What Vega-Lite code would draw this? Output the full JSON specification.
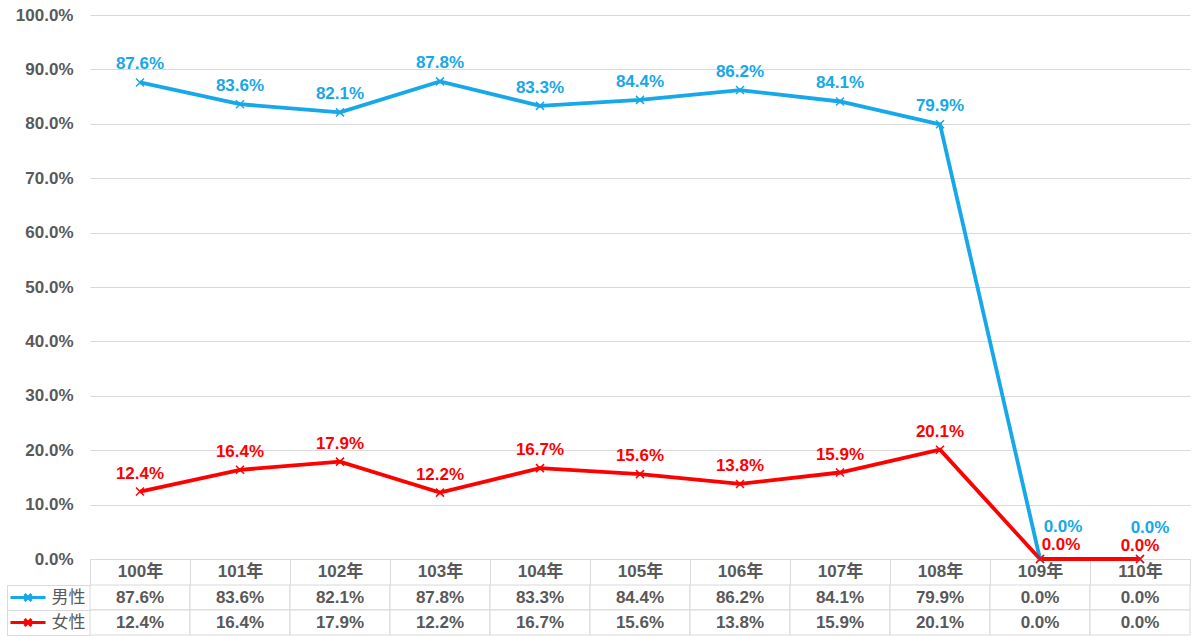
{
  "$schema": "https://vega.github.io/schema/vega-lite/v6.json",
  "padding": {"left": 4, "top": 6, "right": 0, "bottom": 0},
  "bounds": "flush",
  "columns": 2,
  "spacing": {"row": 26, "column": 41},
  "config": {
    "view": {"stroke": null},
    "font": "'Liberation Sans', 'Noto Sans CJK TC', sans-serif"
  },
  "datasets": {
    "d": [
      {"year": "100年", "series": "男性", "value": 0.876},
      {"year": "101年", "series": "男性", "value": 0.836},
      {"year": "102年", "series": "男性", "value": 0.821},
      {"year": "103年", "series": "男性", "value": 0.878},
      {"year": "104年", "series": "男性", "value": 0.833},
      {"year": "105年", "series": "男性", "value": 0.844},
      {"year": "106年", "series": "男性", "value": 0.862},
      {"year": "107年", "series": "男性", "value": 0.841},
      {"year": "108年", "series": "男性", "value": 0.799},
      {"year": "109年", "series": "男性", "value": 0.0},
      {"year": "110年", "series": "男性", "value": 0.0},
      {"year": "100年", "series": "女性", "value": 0.124},
      {"year": "101年", "series": "女性", "value": 0.164},
      {"year": "102年", "series": "女性", "value": 0.179},
      {"year": "103年", "series": "女性", "value": 0.122},
      {"year": "104年", "series": "女性", "value": 0.167},
      {"year": "105年", "series": "女性", "value": 0.156},
      {"year": "106年", "series": "女性", "value": 0.138},
      {"year": "107年", "series": "女性", "value": 0.159},
      {"year": "108年", "series": "女性", "value": 0.201},
      {"year": "109年", "series": "女性", "value": 0.0},
      {"year": "110年", "series": "女性", "value": 0.0}
    ]
  },
  "concat": [
    {
      "width": 42,
      "height": 544,
      "data": {"values": []},
      "mark": "point"
    },
    {
      "width": 1100,
      "height": 544,
      "data": {"name": "d"},
      "encoding": {
        "x": {
          "field": "year", "type": "nominal", "sort": null,
          "scale": {"paddingInner": 0, "paddingOuter": 0},
          "axis": {
            "title": null, "labelAngle": 0, "domain": true, "domainColor": "#d9d9d9",
            "ticks": true, "tickBand": "extent", "tickSize": 26, "tickColor": "#d9d9d9",
            "labelPadding": -22, "labelFontSize": 17, "labelFontWeight": "bold",
            "labelColor": "#595959", "grid": false
          }
        },
        "y": {
          "field": "value", "type": "quantitative",
          "scale": {"domain": [0, 1], "nice": false},
          "axis": {
            "title": null, "format": ".1%",
            "values": [0, 0.1, 0.2, 0.3, 0.4, 0.5, 0.6, 0.7, 0.8, 0.9, 1.0],
            "domain": false, "ticks": false, "labelPadding": 17, "minExtent": 0,
            "grid": true, "gridColor": "#d9d9d9", "gridWidth": 1.2,
            "labelFontSize": 17, "labelFontWeight": "bold", "labelColor": "#595959"
          }
        },
        "color": {
          "field": "series", "type": "nominal",
          "scale": {"domain": ["男性", "女性"], "range": ["#16a8e8", "#ff0000"]},
          "legend": null
        }
      },
      "layer": [
        {"mark": {"type": "line", "strokeWidth": 3.8}},
        {
          "mark": {"type": "point", "shape": "M-1,-1L1,1M-1,1L1,-1", "size": 64, "filled": false, "strokeWidth": 1.5, "opacity": 1}
        },
        {
          "transform": [{"filter": "datum.value > 0"}],
          "mark": {"type": "text", "dy": -18, "baseline": "middle", "fontSize": 17, "fontWeight": "bold"},
          "encoding": {"text": {"field": "value", "type": "quantitative", "format": ".1%"}}
        },
        {
          "transform": [{"filter": "datum.value == 0 && datum.series == '男性' && datum.year == '109年'"}],
          "mark": {"type": "text", "dy": -32, "dx": 23, "baseline": "middle", "fontSize": 17, "fontWeight": "bold"},
          "encoding": {"text": {"field": "value", "type": "quantitative", "format": ".1%"}}
        },
        {
          "transform": [{"filter": "datum.value == 0 && datum.series == '女性' && datum.year == '109年'"}],
          "mark": {"type": "text", "dy": -14, "dx": 21, "baseline": "middle", "fontSize": 17, "fontWeight": "bold"},
          "encoding": {"text": {"field": "value", "type": "quantitative", "format": ".1%"}}
        },
        {
          "transform": [{"filter": "datum.value == 0 && datum.series == '男性' && datum.year == '110年'"}],
          "mark": {"type": "text", "dy": -31, "dx": 10, "baseline": "middle", "fontSize": 17, "fontWeight": "bold"},
          "encoding": {"text": {"field": "value", "type": "quantitative", "format": ".1%"}}
        },
        {
          "transform": [{"filter": "datum.value == 0 && datum.series == '女性' && datum.year == '110年'"}],
          "mark": {"type": "text", "dy": -13, "dx": 0, "baseline": "middle", "fontSize": 17, "fontWeight": "bold"},
          "encoding": {"text": {"field": "value", "type": "quantitative", "format": ".1%"}}
        }
      ]
    },
    {
      "width": 42,
      "height": 50,
      "data": {"name": "d"},
      "transform": [{"filter": "datum.year == '100年'"}],
      "encoding": {
        "y": {
          "field": "series", "type": "nominal",
          "scale": {"domain": ["男性", "女性"], "paddingInner": 0, "paddingOuter": 0},
          "axis": {"title": null, "labels": false, "ticks": false, "domain": true, "domainColor": "#d9d9d9", "minExtent": 0}
        },
        "color": {
          "field": "series", "type": "nominal",
          "scale": {"domain": ["男性", "女性"], "range": ["#16a8e8", "#ff0000"]},
          "legend": null
        }
      },
      "layer": [
        {
          "mark": {"type": "point", "shape": "M-1,0L1,0M-0.2,-0.2L0.2,0.2M-0.2,0.2L0.2,-0.2", "size": 1225, "filled": false, "strokeWidth": 3, "opacity": 1}
        }
      ]
    },
    {
      "width": 1100,
      "height": 50,
      "data": {"name": "d"},
      "encoding": {
        "x": {
          "field": "year", "type": "nominal", "sort": null,
          "scale": {"paddingInner": 0, "paddingOuter": 0},
          "axis": null
        },
        "y": {
          "field": "series", "type": "nominal",
          "scale": {"domain": ["男性", "女性"], "paddingInner": 0, "paddingOuter": 0},
          "axis": {
            "title": null, "domain": false, "ticks": true, "tickBand": "extent",
            "tickSize": 83, "tickColor": "#d9d9d9", "labelPadding": -78, "minExtent": 0,
            "labelFontSize": 17, "labelColor": "#595959", "labelFontWeight": "normal"
          }
        }
      },
      "layer": [
        {"mark": {"type": "rect", "fill": "#ffffff", "stroke": "#d9d9d9", "strokeWidth": 1}},
        {
          "mark": {"type": "text", "fontSize": 17, "fontWeight": "bold", "color": "#595959", "baseline": "middle"},
          "encoding": {"text": {"field": "value", "type": "quantitative", "format": ".1%"}}
        }
      ]
    }
  ]
}
